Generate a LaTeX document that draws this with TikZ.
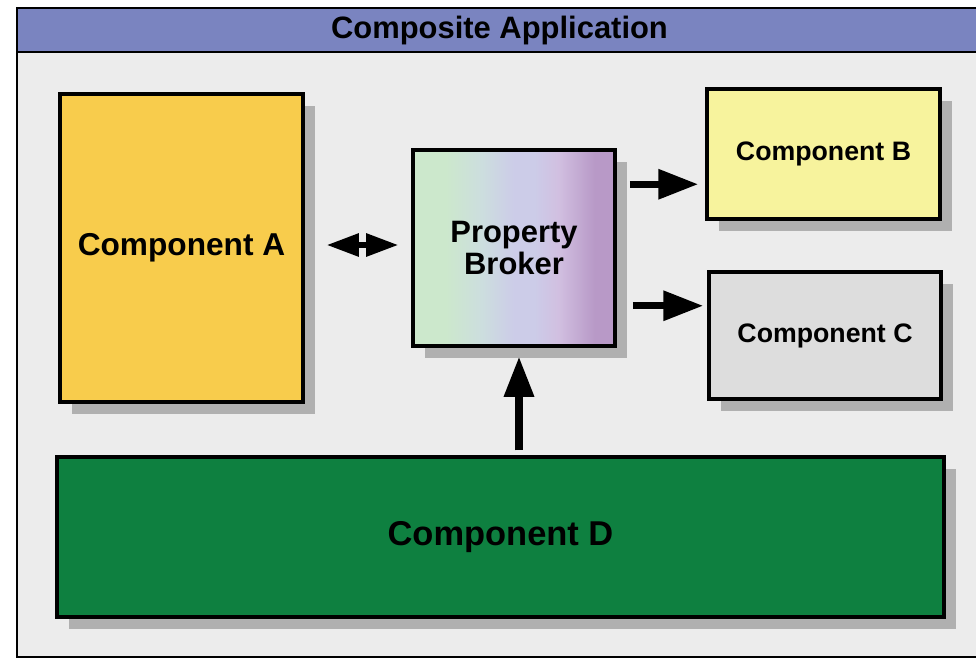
\documentclass[tikz,border=0pt]{standalone}
\usepackage{fontspec}
\setmainfont{Liberation Sans}
\usetikzlibrary{arrows.meta,shadows}

\definecolor{headblue}{RGB}{122,132,192}
\definecolor{bggray}{RGB}{236,236,236}
\definecolor{shadowgray}{RGB}{176,176,176}
\definecolor{compAyellow}{RGB}{248,204,76}
\definecolor{compBlemon}{RGB}{247,243,157}
\definecolor{compCgray}{RGB}{221,221,221}
\definecolor{compDgreen}{RGB}{14,128,64}

\pgfdeclarehorizontalshading{brokershade}{100bp}{
  rgb(0bp)=(0.80,0.91,0.80); rgb(33bp)=(0.80,0.91,0.80);
  rgb(42bp)=(0.80,0.87,0.87); rgb(50bp)=(0.80,0.80,0.91);
  rgb(55bp)=(0.80,0.80,0.91); rgb(61bp)=(0.82,0.75,0.88);
  rgb(70bp)=(0.72,0.60,0.78); rgb(100bp)=(0.72,0.60,0.78)}

\begin{document}
\begin{tikzpicture}[
  compbox/.style={draw=black, line width=2.5pt, font=\bfseries,
    drop shadow={shadow xshift=0.3cm, shadow yshift=-0.3cm, fill=shadowgray, opacity=1}},
  fatarrow/.style={line width=5pt, -{Triangle[length=1cm,width=0.72cm]}},
  twoarrow/.style={line width=4pt, {Triangle[length=0.8cm,width=0.55cm]}-{Triangle[length=0.8cm,width=0.55cm]}}
]
\useasboundingbox (0,0) rectangle (24.4,-16.475);
\fill[white] (0,0) rectangle (24.4,-16.475);

\draw[line width=1.5pt, fill=bggray] (0.425,-0.2) rectangle (24.55,-16.42);
\node[draw=black, line width=1.5pt, fill=headblue, minimum width=24.125cm, minimum height=1.1cm,
  font=\bfseries\fontsize{22}{22}\selectfont] (title) at (12.4875,-0.75) {Composite Application};

\node[compbox, fill=compAyellow, minimum width=6.075cm, minimum height=7.7cm,
  font=\bfseries\fontsize{22.5}{22.5}\selectfont] (compA) at (4.5375,-6.2) {Component A};
\node[compbox, shading=brokershade, minimum width=5.05cm, minimum height=4.9cm, align=center,
  font=\bfseries\fontsize{22}{23}\selectfont] (broker) at (12.85,-6.2) {Property\\Broker};
\node[compbox, fill=compBlemon, minimum width=5.825cm, minimum height=3.25cm,
  font=\bfseries\fontsize{19}{19}\selectfont] (compB) at (20.5875,-3.85) {Component B};
\node[compbox, fill=compCgray, minimum width=5.8cm, minimum height=3.175cm,
  font=\bfseries\fontsize{19}{19}\selectfont] (compC) at (20.625,-8.3875) {Component C};
\node[compbox, fill=compDgreen, minimum width=22.175cm, minimum height=4cm,
  font=\bfseries\fontsize{24.5}{24.5}\selectfont] (compD) at (12.5125,-13.425) {Component D};

\draw[twoarrow, shorten <=0.55cm, shorten >=0.325cm]
  ([yshift=0.075cm]compA.east) -- ([yshift=0.075cm]compA.east -| broker.west);
\draw[fatarrow, shorten <=0.325cm, shorten >=0.175cm]
  ([yshift=-0.9cm]broker.north east) -- ([yshift=-0.9cm]broker.north east -| compB.west);
\draw[fatarrow, shorten <=0.4cm, shorten >=0.1cm]
  ([yshift=1.05cm]broker.south east) -- ([yshift=1.05cm]broker.south east -| compC.west);
\draw[fatarrow, shorten <=0.125cm, shorten >=0.225cm]
  ([xshift=0.125cm]broker.south |- compD.north) -- ([xshift=0.125cm]broker.south);
\end{tikzpicture}
\end{document}
